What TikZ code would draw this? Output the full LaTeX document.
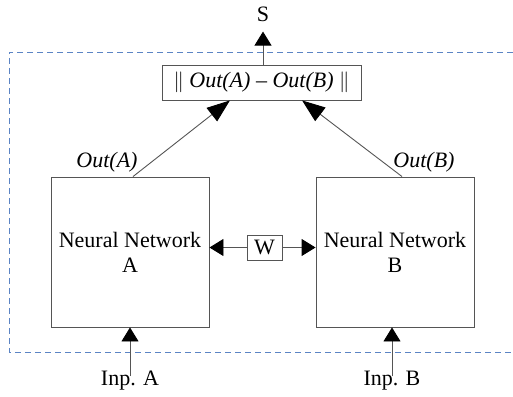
\documentclass[tikz,border=0pt]{standalone}
\usepackage{fontspec}
\setmainfont{Liberation Serif}
\usetikzlibrary{arrows.meta,
	calc,
	positioning}

\definecolor{edgegray}{HTML}{555555}
\definecolor{dashblue}{HTML}{5B84C4}

\tikzset{
	block/.style={draw=edgegray, line width=0.9pt, inner sep=0pt, align=center},
	label/.style={inner sep=2pt},
	arr/.style={draw=edgegray, line width=0.9pt, -{Triangle[length=14pt,width=17pt,color=black]}},
	longarr/.style={draw=edgegray, line width=0.9pt, -{Triangle[length=23pt,width=17pt,color=black]}}
}

\begin{document}
\begin{tikzpicture}[x=1pt, y=-1pt, font=\fontsize{22}{25}\selectfont]
	\useasboundingbox (0,0) rectangle (513,396);
	% shared part, open at the right
	\draw[dashblue, line width=1pt, dash pattern=on 6pt off 4pt] (513,52) -- (9,52) -- (9,352) -- (513,352);

	\node[block, minimum width=199pt, minimum height=35pt] (dist) at (261.5,82.5) {$\|$ \textit{Out(A)} -- \textit{Out(B)} $\|$};
	\node[block, minimum width=158pt, minimum height=150pt] (nna) at (130,252) {Neural Network\\A};
	\node[block, minimum width=158pt, minimum height=150pt] (nnb) at (395,252) {Neural Network\\B};
	\node[block, minimum width=35pt, minimum height=25pt] (w) at (264.5,247.5) {W};

	\node[label] (s) at (263,14) {S};
	\node[label] (outa) at (107,162) {\textit{Out(A)}};
	\node[label] (outb) at (424,162) {\textit{Out(B)}};
	\node[label] (inpa) at (130,381) {Inp. A};
	\node[label] (inpb) at (392,381) {Inp. B};

	% connectors
	\draw[arr] (dist.north -| s) -- ([yshift=-8pt]s.south);
	\draw[longarr] ([xshift=3pt]nna.north) -- ($(dist.south west)!0.342!(dist.south east)$);
	\draw[longarr] ([xshift=7pt]nnb.north) -- ($(dist.south west)!0.703!(dist.south east)$);
	\draw[arr] (w.west) -- (w.west -| nna.east);
	\draw[arr] (w.east) -- (w.east -| nnb.west);
	\draw[arr] ([yshift=-7pt]inpa.north) -- (inpa.north |- nna.south);
	\draw[arr] ([yshift=-7pt]inpb.north) -- (inpb.north |- nnb.south);
\end{tikzpicture}
\end{document}
